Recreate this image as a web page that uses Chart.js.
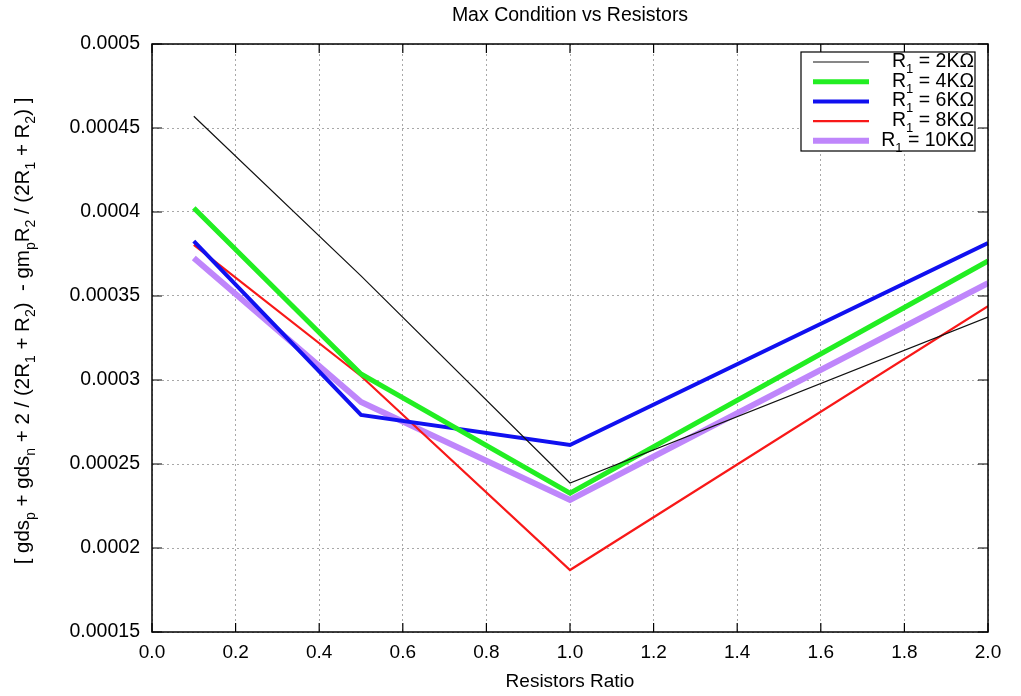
<!DOCTYPE html>
<html>
<head>
<meta charset="utf-8">
<script src="https://cdn.jsdelivr.net/npm/chart.js@4/dist/chart.umd.min.js"></script>
<style>
  body { margin: 0; background: #fff; }
  canvas { display: block; }
</style>
</head>
<body>
<canvas id="chart" width="1021" height="696"></canvas>
<script>
// resistor ratio on the x axis
const ratio = [0.1, 0.5, 1.0, 2.0];

// one series per R1 value
const r1_2k = [0.000457, 0.000362, 0.0002387, 0.0003375];
const r1_4k = [0.0004024, 0.0003036, 0.0002327, 0.0003708];
const r1_6k = [0.0003827, 0.0002792, 0.0002613, 0.0003815];
const r1_8k = [0.0003804, 0.0003024, 0.0001869, 0.000344];
const r1_10k = [0.0003726, 0.0002869, 0.0002286, 0.0003577];

const seriesNames = ['2KΩ', '4KΩ', '6KΩ', '8KΩ', '10KΩ'];

const FONT = '"Liberation Sans", Arial, Helvetica, sans-serif';
const fontOf = (size) => `${size}px ${FONT}`;

function toPoints(values) {
  return ratio.map((x, i) => ({ x, y: values[i] }));
}

// draws text made of normal and subscript parts
function drawRich(ctx, parts, x, y, size, align) {
  const subSize = Math.round(size * 0.68);
  let total = 0;
  parts.forEach(([t, sub]) => {
    ctx.font = fontOf(sub ? subSize : size);
    total += ctx.measureText(t).width;
  });
  let cx = x;
  if (align === 'right') cx = x - total;
  if (align === 'center') cx = x - total / 2;
  ctx.textAlign = 'left';
  ctx.textBaseline = 'alphabetic';
  parts.forEach(([t, sub]) => {
    ctx.font = fontOf(sub ? subSize : size);
    ctx.fillText(t, cx, sub ? y + size * 0.3 : y);
    cx += ctx.measureText(t).width;
  });
}

const frame = {
  id: 'frame',
  afterDatasetsDraw(chart) {
    const { ctx, chartArea: a, scales } = chart;
    ctx.save();

    // border and inward ticks
    ctx.strokeStyle = '#000';
    ctx.lineWidth = 1.5;
    ctx.strokeRect(a.left, a.top, a.right - a.left, a.bottom - a.top);
    ctx.lineWidth = 1.2;
    ctx.beginPath();
    scales.y.ticks.forEach((t) => {
      const py = scales.y.getPixelForValue(t.value);
      ctx.moveTo(a.left, py); ctx.lineTo(a.left + 10, py);
      ctx.moveTo(a.right, py); ctx.lineTo(a.right - 10, py);
    });
    scales.x.ticks.forEach((t) => {
      const px = scales.x.getPixelForValue(t.value);
      ctx.moveTo(px, a.bottom); ctx.lineTo(px, a.bottom - 9);
      ctx.moveTo(px, a.top); ctx.lineTo(px, a.top + 9);
    });
    ctx.stroke();

    ctx.fillStyle = '#000';
    const midX = (a.left + a.right) / 2;
    drawRich(ctx, [['Max Condition vs Resistors', false]], midX, 21, 19.5, 'center');
    drawRich(ctx, [['Resistors Ratio', false]], midX, 687, 19, 'center');

    // rotated y axis title
    ctx.save();
    ctx.translate(22, (a.top + a.bottom) / 2 - 7);
    ctx.rotate(-Math.PI / 2);
    drawRich(ctx, [
      ['[ gds', false], ['p', true], [' + gds', false], ['n', true],
      [' + 2 / (2R', false], ['1', true], [' + R', false], ['2', true],
      [')  - gm', false], ['p', true], ['R', false], ['2', true],
      [' / (2R', false], ['1', true], [' + R', false], ['2', true], [') ]', false]
    ], 0, 7, 20.5, 'center');
    ctx.restore();

    // legend box
    const box = { left: 801, top: 52, right: 975, bottom: 151 };
    ctx.fillStyle = '#fff';
    ctx.fillRect(box.left, box.top, box.right - box.left, box.bottom - box.top);
    ctx.strokeStyle = '#000';
    ctx.lineWidth = 1.2;
    ctx.strokeRect(box.left, box.top, box.right - box.left, box.bottom - box.top);
    chart.data.datasets.forEach((ds, i) => {
      const ly = 62 + i * 19.7;
      ctx.strokeStyle = ds.borderColor;
      ctx.lineWidth = ds.borderWidth;
      ctx.beginPath();
      ctx.moveTo(813, ly);
      ctx.lineTo(869, ly);
      ctx.stroke();
      ctx.fillStyle = '#000';
      drawRich(ctx, [['R', false], ['1', true], [' = ' + seriesNames[i], false]], 974, ly + 5, 19.5, 'right');
    });

    ctx.restore();
  }
};

new Chart(document.getElementById('chart'), {
  type: 'line',
  data: {
    datasets: [
      { label: 'R1 = 2KΩ', data: toPoints(r1_2k), borderColor: '#111111', borderWidth: 1.2 },
      { label: 'R1 = 4KΩ', data: toPoints(r1_4k), borderColor: '#22ee22', borderWidth: 5 },
      { label: 'R1 = 6KΩ', data: toPoints(r1_6k), borderColor: '#1010f0', borderWidth: 4 },
      { label: 'R1 = 8KΩ', data: toPoints(r1_8k), borderColor: '#f81818', borderWidth: 2.2 },
      { label: 'R1 = 10KΩ', data: toPoints(r1_10k), borderColor: '#bf86fb', borderWidth: 6 }
    ].map((d) => ({ ...d, pointRadius: 0, tension: 0, fill: false, borderJoinStyle: 'miter' }))
  },
  options: {
    responsive: false,
    animation: false,
    layout: { padding: { top: 44, right: 33, left: 0, bottom: 0 } },
    plugins: {
      legend: { display: false },
      title: { display: false },
      tooltip: { enabled: false }
    },
    scales: {
      x: {
        type: 'linear',
        min: 0,
        max: 2,
        ticks: {
          stepSize: 0.2,
          padding: 9,
          color: '#000',
          font: { family: FONT, size: 19 },
          callback: (v) => v.toFixed(1)
        },
        grid: { color: '#a8a8a8', drawTicks: false, lineWidth: 1 },
        border: { display: false, dash: [2, 3] },
        afterFit: (s) => { s.height = 64; }
      },
      y: {
        min: 0.00015,
        max: 0.0005,
        ticks: {
          stepSize: 0.00005,
          padding: 12,
          color: '#000',
          font: { family: FONT, size: 19.5 },
          callback: (v) => String(parseFloat(v.toFixed(6)))
        },
        grid: { color: '#a8a8a8', drawTicks: false, lineWidth: 1 },
        border: { display: false, dash: [2, 3] },
        afterFit: (s) => { s.width = 152; }
      }
    }
  },
  plugins: [frame]
});
</script>
</body>
</html>
